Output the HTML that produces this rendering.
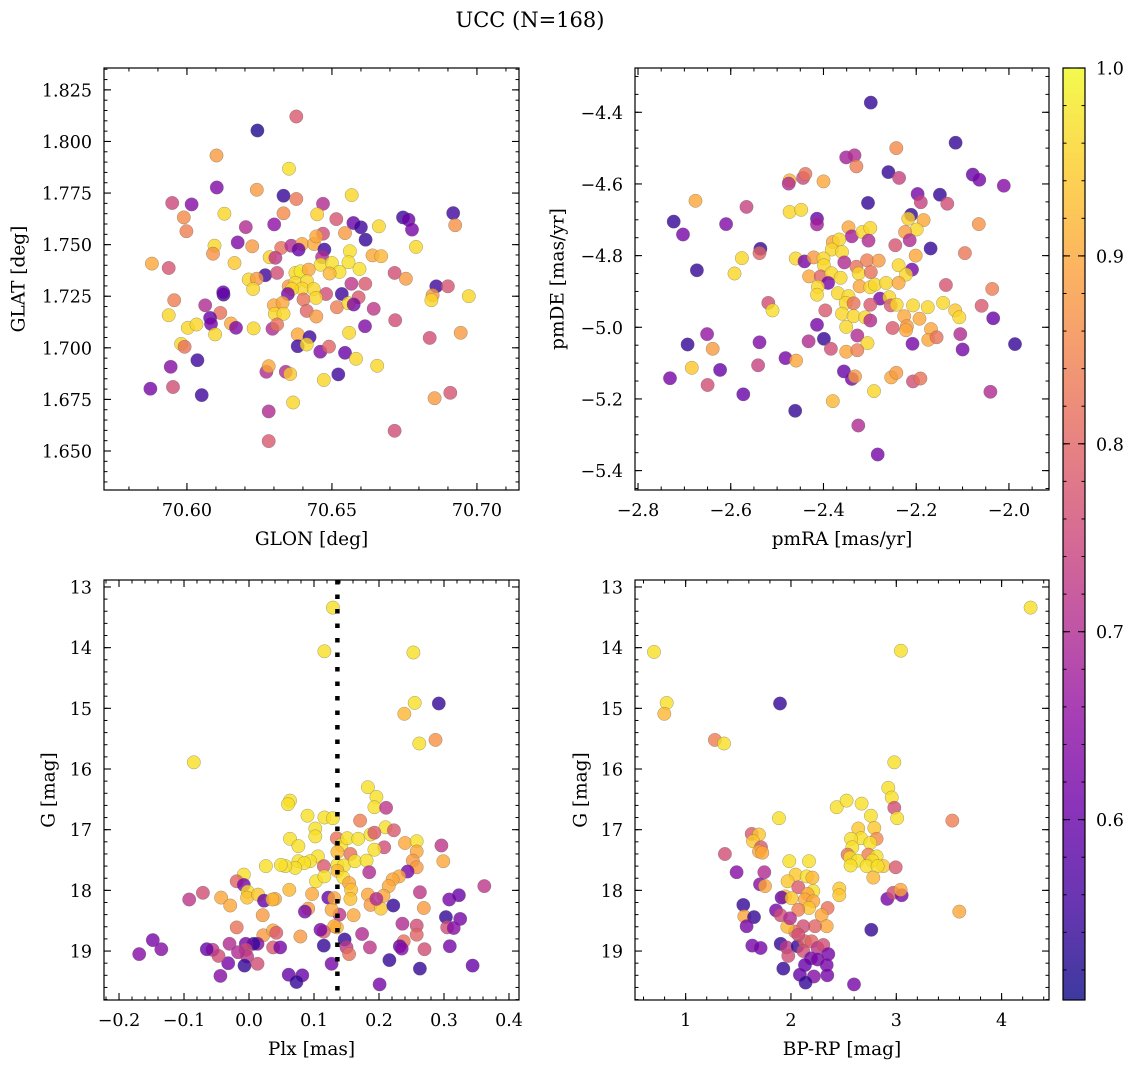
<!DOCTYPE html>
<html><head><meta charset="utf-8"><title>UCC (N=168)</title>
<style>
html,body{margin:0;padding:0;background:#fff;}
svg{display:block;font-family:"DejaVu Serif","Liberation Serif",serif;}
</style></head>
<body>
<svg id="fig" width="1136" height="1067" viewBox="0 0 1136 1067" xmlns="http://www.w3.org/2000/svg">
<defs>
<linearGradient id="plasma" x1="0" y1="1" x2="0" y2="0">
<stop offset="0" stop-color="#0d0887"/><stop offset="0.1" stop-color="#41049d"/><stop offset="0.2" stop-color="#6a00a8"/><stop offset="0.3" stop-color="#8f0da4"/><stop offset="0.4" stop-color="#b12a90"/><stop offset="0.5" stop-color="#cc4778"/><stop offset="0.6" stop-color="#e16462"/><stop offset="0.7" stop-color="#f2844b"/><stop offset="0.8" stop-color="#fca636"/><stop offset="0.9" stop-color="#fcce25"/><stop offset="1" stop-color="#f0f921"/>
</linearGradient>
</defs>
<text x="530" y="27" font-size="21" text-anchor="middle">UCC (N=168)</text>
</svg>
<script>
// ---- Panel 1: GLON vs GLAT ----
const glon=[70.6377,70.6243,70.6102,70.6352,70.6103,70.6241,70.6333,70.6377,70.6568,70.5949,70.6016,70.6469,70.5989,70.6129,70.6333,70.6449,70.6515,70.6745,70.6764,70.6918,70.5998,70.6203,70.6301,70.6574,70.6600,70.6662,70.6776,70.6925,70.6469,70.6545,70.6095,70.6090,70.6175,70.6225,70.6325,70.6360,70.6397,70.6438,70.6446,70.6385,70.6474,70.6562,70.6616,70.6790,70.5879,70.5937,70.6164,70.6285,70.6305,70.6466,70.6640,70.6670,70.6461,70.6500,70.6557,70.6595,70.6526,70.6492,70.6270,70.6311,70.6374,70.6392,70.6420,70.6716,70.6755,70.6213,70.6241,70.6228,70.6351,70.6374,70.6414,70.6397,70.6437,70.6362,70.6567,70.6615,70.6126,70.6125,70.6348,70.6480,70.6534,70.6592,70.6860,70.6900,70.6847,70.6843,70.6972,70.5956,70.6063,70.6402,70.6445,70.6300,70.6330,70.6517,70.6557,70.6575,70.6644,70.5937,70.6115,70.6080,70.6303,70.6333,70.6413,70.6446,70.6718,70.6003,70.6033,70.6083,70.6152,70.6169,70.6230,70.6295,70.6311,70.6614,70.6097,70.6382,70.6423,70.6382,70.6413,70.6559,70.6944,70.6837,70.5980,70.5992,70.6460,70.6490,70.6545,70.6036,70.6583,70.6656,70.5944,70.6274,70.6282,70.6341,70.6356,70.6472,70.6522,70.5874,70.5952,70.6051,70.6366,70.6854,70.6908,70.6282,70.6716,70.6282];
const glat=[1.8121,1.8053,1.7932,1.7868,1.7777,1.7766,1.7737,1.7721,1.7740,1.7702,1.7695,1.7698,1.7632,1.7650,1.7652,1.7647,1.7624,1.7632,1.7621,1.7653,1.7565,1.7585,1.7598,1.7605,1.7584,1.7589,1.7573,1.7594,1.7553,1.7556,1.7495,1.7456,1.7511,1.7492,1.7484,1.7495,1.7503,1.7503,1.7540,1.7476,1.7476,1.7468,1.7524,1.7489,1.7408,1.7387,1.7411,1.7439,1.7436,1.7439,1.7448,1.7444,1.7403,1.7411,1.7415,1.7382,1.7368,1.7360,1.7352,1.7363,1.7363,1.7371,1.7379,1.7363,1.7335,1.7331,1.7335,1.7285,1.7298,1.7315,1.7323,1.7287,1.7285,1.7285,1.7310,1.7310,1.7258,1.7269,1.7261,1.7261,1.7261,1.7245,1.7298,1.7298,1.7255,1.7231,1.7250,1.7231,1.7206,1.7234,1.7242,1.7206,1.7218,1.7197,1.7216,1.7210,1.7189,1.7158,1.7169,1.7145,1.7165,1.7165,1.7179,1.7152,1.7134,1.7097,1.7113,1.7116,1.7118,1.7097,1.7094,1.7092,1.7113,1.7105,1.7065,1.7065,1.7052,1.7008,1.7016,1.7073,1.7073,1.7048,1.7019,1.7005,1.6981,1.7006,1.6976,1.6940,1.6947,1.6913,1.6908,1.6884,1.6911,1.6884,1.6873,1.6844,1.6871,1.6802,1.6810,1.6771,1.6735,1.6756,1.6782,1.6692,1.6598,1.6548];
const probA=[0.78,0.52,0.88,0.97,0.63,0.88,0.54,0.83,0.96,0.75,0.64,0.70,0.86,0.96,0.86,0.95,0.77,0.55,0.60,0.55,0.84,0.70,0.65,0.60,0.55,0.96,0.62,0.87,0.76,0.88,0.96,0.87,0.63,0.88,0.82,0.70,0.90,0.90,0.90,0.60,0.55,0.97,0.54,0.96,0.90,0.77,0.94,0.95,0.72,0.70,0.90,0.92,0.97,0.97,0.97,0.97,0.97,0.92,0.55,0.76,0.96,0.98,0.90,0.76,0.88,0.96,0.88,0.96,0.88,0.96,0.96,0.96,0.96,0.96,0.72,0.78,0.55,0.60,0.62,0.76,0.55,0.78,0.55,0.77,0.88,0.96,0.96,0.84,0.70,0.82,0.96,0.90,0.90,0.84,0.96,0.62,0.72,0.96,0.82,0.60,0.96,0.96,0.80,0.88,0.76,0.96,0.96,0.62,0.90,0.63,0.96,0.70,0.82,0.63,0.96,0.90,0.55,0.55,0.96,0.96,0.88,0.76,0.96,0.82,0.63,0.80,0.60,0.55,0.96,0.96,0.64,0.70,0.90,0.70,0.94,0.96,0.55,0.62,0.76,0.55,0.96,0.88,0.77,0.70,0.76,0.78];

// ---- Panel 2: pmRA vs pmDE ----
const pmra=[-2.298,-2.115,-2.243,-2.351,-2.333,-2.329,-2.260,-2.237,-2.078,-2.064,-2.011,-2.473,-2.475,-2.444,-2.439,-2.400,-2.676,-2.566,-2.304,-2.197,-2.190,-2.149,-2.133,-2.723,-2.703,-2.610,-2.473,-2.448,-2.414,-2.414,-2.211,-2.217,-2.184,-2.199,-2.224,-2.065,-2.346,-2.339,-2.316,-2.299,-2.303,-2.214,-2.380,-2.366,-2.382,-2.360,-2.245,-2.169,-2.095,-2.536,-2.538,-2.673,-2.592,-2.576,-2.460,-2.441,-2.421,-2.400,-2.399,-2.355,-2.329,-2.306,-2.281,-2.238,-2.209,-2.201,-2.431,-2.406,-2.383,-2.390,-2.363,-2.324,-2.298,-2.222,-2.412,-2.414,-2.369,-2.322,-2.299,-2.289,-2.265,-2.238,-2.136,-2.036,-2.346,-2.352,-2.335,-2.278,-2.258,-2.299,-2.255,-2.242,-2.207,-2.175,-2.142,-2.116,-2.107,-2.059,-2.519,-2.510,-2.396,-2.360,-2.335,-2.310,-2.299,-2.414,-2.351,-2.251,-2.226,-2.220,-2.222,-2.193,-2.168,-2.034,-1.987,-2.693,-2.651,-2.639,-2.538,-2.432,-2.399,-2.384,-2.327,-2.305,-2.351,-2.327,-2.208,-2.174,-2.156,-2.105,-2.100,-2.684,-2.731,-2.650,-2.623,-2.541,-2.482,-2.459,-2.356,-2.339,-2.332,-2.254,-2.243,-2.207,-2.191,-2.291,-2.380,-2.573,-2.040,-2.461,-2.325,-2.283];
const pmde=[-4.373,-4.485,-4.500,-4.526,-4.520,-4.551,-4.567,-4.583,-4.574,-4.588,-4.605,-4.590,-4.599,-4.583,-4.572,-4.593,-4.647,-4.664,-4.653,-4.628,-4.651,-4.630,-4.655,-4.705,-4.741,-4.712,-4.678,-4.672,-4.697,-4.713,-4.686,-4.697,-4.701,-4.727,-4.734,-4.712,-4.721,-4.746,-4.734,-4.723,-4.758,-4.757,-4.762,-4.755,-4.783,-4.790,-4.771,-4.780,-4.793,-4.781,-4.793,-4.841,-4.850,-4.807,-4.808,-4.816,-4.805,-4.808,-4.827,-4.819,-4.831,-4.813,-4.814,-4.827,-4.839,-4.800,-4.858,-4.858,-4.849,-4.876,-4.862,-4.850,-4.846,-4.853,-4.887,-4.909,-4.905,-4.886,-4.888,-4.881,-4.876,-4.876,-4.882,-4.893,-4.913,-4.932,-4.933,-4.920,-4.916,-4.937,-4.939,-4.937,-4.939,-4.944,-4.932,-4.953,-4.972,-4.940,-4.932,-4.953,-4.953,-4.962,-4.969,-4.972,-4.981,-4.993,-4.999,-5.002,-4.969,-4.997,-5.008,-4.976,-5.005,-4.975,-5.047,-5.048,-5.019,-5.060,-5.042,-5.039,-5.032,-5.060,-5.023,-5.044,-5.068,-5.064,-5.046,-5.035,-5.028,-5.019,-5.062,-5.113,-5.142,-5.161,-5.119,-5.106,-5.086,-5.093,-5.123,-5.144,-5.137,-5.140,-5.127,-5.151,-5.143,-5.178,-5.206,-5.187,-5.180,-5.233,-5.274,-5.355];
const probB=[0.54,0.54,0.86,0.68,0.70,0.84,0.54,0.74,0.60,0.62,0.64,0.92,0.70,0.75,0.82,0.90,0.90,0.74,0.54,0.62,0.74,0.54,0.76,0.54,0.62,0.63,0.96,0.96,0.60,0.68,0.54,0.95,0.90,0.96,0.88,0.87,0.90,0.68,0.96,0.96,0.70,0.70,0.90,0.96,0.96,0.96,0.77,0.54,0.83,0.54,0.80,0.54,0.96,0.96,0.96,0.62,0.88,0.96,0.96,0.70,0.82,0.84,0.88,0.96,0.62,0.90,0.90,0.80,0.96,0.62,0.96,0.96,0.82,0.96,0.96,0.96,0.96,0.90,0.96,0.96,0.96,0.90,0.77,0.84,0.96,0.96,0.82,0.62,0.96,0.78,0.78,0.96,0.96,0.96,0.96,0.94,0.96,0.78,0.76,0.97,0.78,0.96,0.96,0.96,0.70,0.62,0.96,0.78,0.90,0.88,0.90,0.90,0.90,0.60,0.54,0.54,0.66,0.88,0.63,0.70,0.54,0.76,0.70,0.96,0.90,0.84,0.62,0.90,0.82,0.70,0.62,0.94,0.62,0.76,0.60,0.74,0.62,0.90,0.60,0.62,0.88,0.90,0.88,0.76,0.82,0.96,0.92,0.60,0.70,0.54,0.70,0.62];

// ---- Panel 3: Plx vs G ----
const plx=[0.129,0.116,0.253,0.255,0.239,0.292,0.262,0.287,-0.085,0.183,0.196,0.193,0.211,0.063,0.060,0.090,0.116,0.129,0.171,0.102,0.102,0.210,0.223,0.063,0.076,0.135,0.142,0.151,0.168,0.187,0.193,0.240,0.258,0.296,0.208,0.193,0.156,0.258,0.136,0.106,0.094,0.076,0.085,0.071,0.056,0.049,0.026,0.115,0.136,0.146,0.163,0.181,0.252,0.258,0.299,0.185,0.244,0.231,0.221,0.215,0.207,-0.008,-0.019,-0.008,-0.002,-0.003,0.014,0.023,0.103,0.116,0.136,0.145,0.154,0.157,0.156,0.062,0.097,0.040,0.036,-0.043,-0.029,-0.071,-0.092,0.122,0.131,0.183,0.187,0.203,0.196,0.222,0.263,0.269,0.308,0.323,0.362,0.303,0.325,0.305,0.315,0.258,0.258,0.236,0.238,0.232,0.235,0.270,0.309,0.344,0.263,0.216,0.201,0.186,0.174,0.161,0.139,0.127,0.135,0.131,0.115,0.110,0.147,0.150,0.154,0.115,0.127,0.091,0.086,0.079,0.061,0.082,0.073,0.021,-0.019,0.022,0.037,0.042,0.037,0.048,0.013,0.007,-0.005,-0.005,-0.003,-0.017,-0.030,0.013,-0.007,-0.032,-0.044,-0.047,-0.056,-0.065,-0.148,-0.135,-0.169];
const gA=[13.34,14.06,14.08,14.91,15.09,14.92,15.58,15.52,15.89,16.30,16.46,16.63,16.64,16.52,16.58,16.77,16.80,16.81,16.85,16.98,17.11,16.96,17.01,17.15,17.27,17.14,17.25,17.14,17.15,17.08,17.05,17.22,17.19,17.26,17.29,17.33,17.40,17.36,17.37,17.44,17.52,17.52,17.55,17.63,17.60,17.58,17.60,17.60,17.58,17.59,17.52,17.51,17.51,17.62,17.52,17.70,17.69,17.77,17.82,17.93,18.09,17.74,17.85,17.91,18.02,18.12,18.07,18.17,17.85,17.77,17.68,17.79,17.88,17.99,18.14,17.99,18.06,18.14,18.15,18.12,18.25,18.04,18.15,18.12,18.13,18.07,18.24,18.30,18.14,18.25,18.03,18.29,18.15,18.08,17.93,18.44,18.47,18.61,18.62,18.58,18.73,18.55,18.84,18.92,18.96,18.97,18.92,19.24,19.29,19.15,19.55,18.94,18.72,18.41,18.40,18.32,18.61,18.59,18.68,18.65,18.81,18.94,19.05,18.91,19.21,18.30,18.35,18.76,19.39,19.40,19.51,18.41,18.61,18.74,18.66,18.70,18.94,18.94,18.88,18.88,18.88,18.98,19.09,19.02,18.88,19.21,19.24,19.20,19.41,19.08,18.98,18.97,18.82,18.97,19.05];
const probC=[0.97,0.97,0.97,0.97,0.92,0.54,0.97,0.87,0.97,0.97,0.97,0.97,0.72,0.97,0.97,0.97,0.97,0.97,0.84,0.97,0.97,0.97,0.78,0.97,0.97,0.82,0.97,0.97,0.97,0.97,0.78,0.90,0.97,0.72,0.76,0.97,0.82,0.90,0.92,0.97,0.97,0.97,0.97,0.97,0.97,0.97,0.97,0.78,0.97,0.97,0.97,0.97,0.88,0.88,0.90,0.70,0.62,0.90,0.90,0.90,0.90,0.97,0.80,0.62,0.97,0.93,0.94,0.60,0.97,0.97,0.92,0.97,0.90,0.93,0.93,0.92,0.90,0.90,0.92,0.90,0.90,0.76,0.72,0.60,0.90,0.90,0.88,0.94,0.70,0.54,0.72,0.88,0.62,0.60,0.72,0.54,0.62,0.76,0.64,0.76,0.80,0.70,0.82,0.60,0.64,0.76,0.62,0.60,0.54,0.54,0.62,0.72,0.70,0.90,0.72,0.90,0.92,0.90,0.80,0.62,0.54,0.72,0.82,0.54,0.62,0.88,0.62,0.88,0.60,0.60,0.54,0.88,0.82,0.88,0.90,0.78,0.78,0.62,0.64,0.54,0.62,0.76,0.72,0.70,0.70,0.76,0.54,0.62,0.64,0.76,0.72,0.60,0.62,0.64,0.64];

// ---- Panel 4: BP-RP vs G ----
const bprp=[4.275,0.699,3.044,0.820,0.797,1.896,1.278,1.364,2.981,3.532,3.598,2.924,2.956,2.981,3.009,2.434,2.528,2.671,2.759,2.791,2.639,2.813,2.665,2.570,2.753,2.582,2.538,2.734,2.813,2.560,2.633,2.772,2.877,2.994,2.566,2.718,2.823,2.782,1.886,1.627,1.696,1.639,1.715,1.696,1.728,1.373,1.484,1.747,1.706,1.753,1.984,2.171,2.044,2.149,2.203,1.968,2.070,2.212,2.158,1.943,1.911,2.006,2.133,2.212,2.171,2.070,2.459,2.459,2.348,2.291,2.339,2.228,2.117,2.038,1.965,1.547,1.557,1.649,1.579,1.858,1.902,1.633,1.712,1.902,1.959,1.975,2.063,2.133,2.196,2.253,2.117,2.307,2.354,2.190,2.133,2.253,2.339,1.927,2.085,2.218,2.345,2.139,2.598,2.763,2.915,2.972,3.051,3.041,2.070,1.991];
const gB=[13.34,14.07,14.05,14.91,15.09,14.92,15.52,15.58,15.89,16.85,18.35,16.31,16.47,16.64,16.81,16.63,16.52,16.57,16.77,16.97,16.98,17.15,17.14,17.15,17.22,17.29,17.41,17.41,17.44,17.46,17.51,17.51,17.60,17.62,17.59,17.60,17.60,17.79,16.81,17.07,17.08,17.19,17.29,17.36,17.38,17.40,17.70,17.70,17.90,17.93,17.52,17.52,17.74,17.77,17.79,17.85,17.95,18.01,18.06,18.10,18.12,18.13,18.15,18.18,18.29,18.32,17.97,18.08,18.29,18.41,18.59,18.59,18.59,18.68,18.60,18.24,18.43,18.44,18.59,18.33,18.41,18.91,18.95,18.88,18.94,19.08,18.92,18.84,18.84,18.95,19.00,18.90,19.05,19.12,19.23,19.14,19.23,19.29,19.39,19.42,19.40,19.52,19.55,18.65,18.14,18.04,18.08,17.99,18.73,18.46];
const probD=[0.97,0.97,0.97,0.97,0.92,0.54,0.84,0.97,0.97,0.84,0.90,0.97,0.97,0.76,0.97,0.97,0.97,0.97,0.97,0.94,0.94,0.86,0.97,0.97,0.97,0.97,0.82,0.84,0.97,0.97,0.97,0.97,0.94,0.78,0.97,0.97,0.97,0.92,0.97,0.78,0.94,0.94,0.78,0.90,0.90,0.76,0.64,0.70,0.64,0.90,0.97,0.97,0.94,0.97,0.92,0.94,0.78,0.97,0.90,0.94,0.60,0.94,0.90,0.90,0.94,0.84,0.94,0.94,0.82,0.90,0.90,0.80,0.76,0.82,0.92,0.54,0.90,0.54,0.62,0.62,0.76,0.62,0.62,0.54,0.72,0.76,0.54,0.80,0.80,0.72,0.76,0.76,0.62,0.62,0.60,0.62,0.62,0.54,0.60,0.64,0.62,0.54,0.62,0.54,0.62,0.76,0.62,0.90,0.76,0.70];

const cbTicks=[0.6,0.7,0.8,0.9,1.0];
const VMIN=0.504, VMAX=1.0;

const NS="http://www.w3.org/2000/svg";
const svg=document.getElementById('fig');
const plasma=["#0d0887","#41049d","#6a00a8","#8f0da4","#b12a90","#cc4778","#e16462","#f2844b","#fca636","#fcce25","#f0f921"];
function hex(h){return [parseInt(h.substr(1,2),16),parseInt(h.substr(3,2),16),parseInt(h.substr(5,2),16)];}
function cmap(v){
  let t=(v-VMIN)/(VMAX-VMIN); t=Math.max(0,Math.min(1,t));
  const f=t*10, i=Math.min(9,Math.floor(f)), u=f-i;
  const a=hex(plasma[i]), b=hex(plasma[i+1]);
  return 'rgb('+a.map((c,k)=>Math.round(c+(b[k]-c)*u)).join(',')+')';
}
function mk(tag,attrs,parent){
  const e=document.createElementNS(NS,tag);
  for(const k in attrs) e.setAttribute(k,attrs[k]);
  (parent||svg).appendChild(e); return e;
}
function fmt(v,d){const s=Math.abs(v)<1e-9?(0).toFixed(d):v.toFixed(d);return s.replace('-','\u2212');}

const panels=[
 {name:'glon-glat',x0:104,x1:519,y0:68,y1:490,xmin:70.5714,xmax:70.7145,ytop:1.8356,ybot:1.6311,xMaj:0.05,xMin:0.01,yMaj:0.025,yMin:0.005,xd:2,yd:3,xs:glon,ys:glat,cs:probA,xl:'GLON [deg]',yl:'GLAT [deg]',ylx:18},
 {name:'pmra-pmde',x0:635,x1:1049,y0:68,y1:490,xmin:-2.8065,xmax:-1.9136,ytop:-4.2764,ybot:-5.4541,xMaj:0.2,xMin:0.05,yMaj:0.2,yMin:0.05,xd:1,yd:1,xs:pmra,ys:pmde,cs:probB,xl:'pmRA [mas/yr]',yl:'pmDE [mas/yr]',ylx:557},
 {name:'plx-g',x0:104,x1:519,y0:580,y1:1000,xmin:-0.2231,xmax:0.4154,ytop:12.885,ybot:19.807,xMaj:0.1,xMin:0.02,yMaj:1,yMin:0.2,xd:1,yd:0,xs:plx,ys:gA,cs:probC,xl:'Plx [mas]',yl:'G [mag]',ylx:48},
 {name:'bprp-g',x0:635,x1:1049,y0:580,y1:1000,xmin:0.519,xmax:4.45,ytop:12.885,ybot:19.807,xMaj:1,xMin:0.2,yMaj:1,yMin:0.2,xd:0,yd:0,xs:bprp,ys:gB,cs:probD,xl:'BP-RP [mag]',yl:'G [mag]',ylx:580}
];

function ticks(a,b,step){const lo=Math.min(a,b),hi=Math.max(a,b);const out=[];for(let i=Math.ceil(lo/step-1e-6);i<=Math.floor(hi/step+1e-6);i++)out.push(+(i*step).toFixed(6));return out;}

panels.forEach(p=>{
  const sx=v=>p.x0+(v-p.xmin)/(p.xmax-p.xmin)*(p.x1-p.x0);
  const sy=v=>p.y0+(v-p.ytop)/(p.ybot-p.ytop)*(p.y1-p.y0);
  const g=mk('g',{});
  
  
  const cp=mk('clipPath',{id:'clip-'+p.name},g);
  mk('rect',{x:p.x0,y:p.y0,width:p.x1-p.x0,height:p.y1-p.y0},cp);
  const pts=mk('g',{'clip-path':'url(#clip-'+p.name+')'},g);
  
  
  for(let i=0;i<p.xs.length;i++){
    const c=mk('circle',{cx:sx(p.xs[i]).toFixed(1),cy:sy(p.ys[i]).toFixed(1),r:6.7,fill:cmap(p.cs[i]),'fill-opacity':0.8,stroke:'#666','stroke-opacity':0.6,'stroke-width':0.5},pts);
    
    
  }
  if(p.name==='plx-g'){
    const l=mk('line',{x1:sx(0.136),x2:sx(0.136),y1:p.y0,y2:p.y1,stroke:'#000','stroke-width':4.5,'stroke-dasharray':'4.5 10'},g);
    
    
  }
  ticks(p.xmin,p.xmax,p.xMin).forEach(v=>{const x=sx(v);
    mk('line',{x1:x,x2:x,y1:p.y1,y2:p.y1-3.5,stroke:'#000','stroke-width':1},g);
    mk('line',{x1:x,x2:x,y1:p.y0,y2:p.y0+3.5,stroke:'#000','stroke-width':1},g);});
  ticks(p.ytop,p.ybot,p.yMin).forEach(v=>{const y=sy(v);
    mk('line',{x1:p.x0,x2:p.x0+3.5,y1:y,y2:y,stroke:'#000','stroke-width':1},g);
    mk('line',{x1:p.x1,x2:p.x1-3.5,y1:y,y2:y,stroke:'#000','stroke-width':1},g);});
  ticks(p.xmin,p.xmax,p.xMaj).forEach(v=>{const x=sx(v);
    mk('line',{x1:x,x2:x,y1:p.y1,y2:p.y1-7,stroke:'#000','stroke-width':1.1},g);
    mk('line',{x1:x,x2:x,y1:p.y0,y2:p.y0+7,stroke:'#000','stroke-width':1.1},g);
    const t=mk('text',{x:x,y:p.y1+26,'font-size':17.5,'text-anchor':'middle'},g);t.textContent=fmt(v,p.xd);
    
    });
  ticks(p.ytop,p.ybot,p.yMaj).forEach(v=>{const y=sy(v);
    mk('line',{x1:p.x0,x2:p.x0+7,y1:y,y2:y,stroke:'#000','stroke-width':1.1},g);
    mk('line',{x1:p.x1,x2:p.x1-7,y1:y,y2:y,stroke:'#000','stroke-width':1.1},g);
    const t=mk('text',{x:p.x0-12,y:y+6.5,'font-size':17.5,'text-anchor':'end'},g);t.textContent=fmt(v,p.yd);
    
    });
  const fr=mk('rect',{x:p.x0,y:p.y0,width:p.x1-p.x0,height:p.y1-p.y0,fill:'none',stroke:'#000','stroke-width':1.2},g);
  
  
  const xl=mk('text',{x:(p.x0+p.x1)/2,y:p.y1+55,'font-size':18.5,'text-anchor':'middle'},g);xl.textContent=p.xl;
  
  
  const cy=(p.y0+p.y1)/2;
  const yl=mk('text',{x:p.ylx,y:cy,'font-size':18.5,'text-anchor':'middle',transform:'rotate(-90 '+p.ylx+' '+cy+')',dy:'0.35em'},g);yl.textContent=p.yl;
  
  
});

(function(){
  const x0=1063,x1=1085,y0=68,y1=1000;
  const g=mk('g',{});
  
  
  mk('rect',{x:x0,y:y0,width:x1-x0,height:y1-y0,fill:'url(#plasma)','fill-opacity':0.8},g);
  const sy=v=>y1-(v-VMIN)/(VMAX-VMIN)*(y1-y0);
  ticks(VMIN,VMAX,0.02).forEach(v=>{const y=sy(v);
    mk('line',{x1:x1,x2:x1-3.5,y1:y,y2:y,stroke:'#000','stroke-width':1},g);
    mk('line',{x1:x0,x2:x0+3.5,y1:y,y2:y,stroke:'#000','stroke-width':1},g);});
  cbTicks.forEach(v=>{const y=sy(v);
    mk('line',{x1:x1,x2:x1-7,y1:y,y2:y,stroke:'#000','stroke-width':1.1},g);
    mk('line',{x1:x0,x2:x0+7,y1:y,y2:y,stroke:'#000','stroke-width':1.1},g);
    const t=mk('text',{x:x1+11,y:y+6.5,'font-size':17.5},g);t.textContent=v.toFixed(1);
    
    });
  mk('rect',{x:x0,y:y0,width:x1-x0,height:y1-y0,fill:'none',stroke:'#000','stroke-width':1.2},g);
})();
</script>
</body></html>
